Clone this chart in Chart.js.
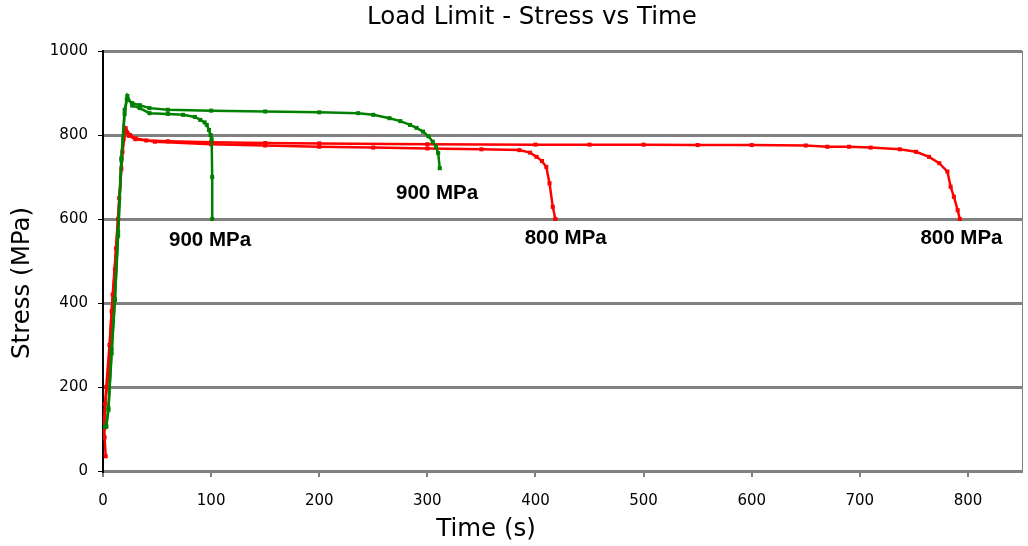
<!DOCTYPE html>
<html>
<head>
<meta charset="utf-8">
<script src="https://cdn.jsdelivr.net/npm/chart.js@4.4.3/dist/chart.umd.min.js"></script>
<style>
  html, body { margin: 0; padding: 0; background: #fff; }
  canvas { display: block; }
</style>
</head>
<body>
<canvas id="stressChart" width="1028" height="546"></canvas>
<script>
// readings taken off the original chart: time (s) / stress (MPa)
const greenShortTime   = [0, 3, 5, 8, 11, 14, 17, 20, 22.5, 27, 34, 43, 60, 74, 85, 90, 94, 96, 98, 99.5, 100.5, 101, 101];
const greenShortStress = [105, 105, 145, 280, 407, 560, 740, 850, 893, 870, 864, 852, 850, 848, 843, 836, 830, 824, 812, 800, 790, 700, 600];

const greenLongTime   = [0, 3, 5, 8, 11, 14, 17, 20, 22, 27, 34, 43, 60, 100, 150, 200, 236, 250, 265, 275, 284, 290, 296, 301, 305, 308, 310, 311.5];
const greenLongStress = [105, 108, 150, 290, 410, 570, 745, 860, 885, 876, 871, 864, 860, 858, 856, 854, 852, 848, 840, 833, 824, 817, 808, 797, 784, 772, 757, 721];

const redShortTime   = [2.5, 1, 2, 5, 8, 11, 14, 17, 19, 21, 25, 30, 48, 100, 150, 200, 250, 300, 350, 385, 395, 401, 406, 410, 413, 416, 418.4];
const redShortStress = [35, 100, 160, 230, 380, 480, 600, 720, 790, 816, 800, 792, 784, 778, 775, 772, 770, 768, 766, 764, 758, 748, 738, 724, 685, 629, 600];

const redLongTime   = [1.5, 1, 3, 6, 9, 12, 15, 18, 20.5, 24, 30, 40, 60, 100, 150, 200, 300, 400, 450, 500, 550, 600, 650, 670, 690, 710, 737, 752, 764, 773.5, 781, 784, 787, 790.5, 792.5];
const redLongStress = [80, 120, 200, 300, 420, 530, 650, 760, 810, 798, 790, 787, 785, 783, 781, 780, 778, 777, 777, 777, 776, 776, 775, 772, 772, 770, 766, 760, 748, 733, 713, 677, 653, 621, 600];

const noteText   = ['900 MPa', '900 MPa', '800 MPa', '800 MPa'];
const noteTime   = [99, 309, 428, 794];
const noteStress = [548, 660, 555, 555];

const pairs = (xs, ys) => xs.map((x, i) => ({ x: x, y: ys[i] }));

function series(label, xs, ys, color) {
    return {
        label: label,
        data: pairs(xs, ys),
        showLine: true,
        borderColor: color,
        backgroundColor: color,
        borderWidth: 2.5,
        pointStyle: 'rect',
        pointRadius: 1.1,
        pointHoverRadius: 1.1,
        tension: 0
    };
}

// title, axis titles, curve labels and the thin right border
const decor = {
    id: 'decor',
    afterDraw(chart) {
        const c = chart.ctx;
        const { x, y } = chart.scales;
        const area = chart.chartArea;
        c.save();
        c.strokeStyle = '#808080';
        c.lineWidth = 1;
        c.beginPath();
        c.moveTo(area.right + 0.5, area.top);
        c.lineTo(area.right + 0.5, area.bottom);
        c.stroke();

        c.fillStyle = '#000';
        c.textAlign = 'center';
        c.textBaseline = 'middle';
        c.font = '24.5px "DejaVu Sans"';
        c.fillText('Load Limit - Stress vs Time', 532, 18);
        c.fillText('Time (s)', 486, 530);
        c.save();
        c.translate(23, 283);
        c.rotate(-Math.PI / 2);
        c.fillText('Stress (MPa)', 0, 0);
        c.restore();

        c.font = 'bold 20.5px "Liberation Sans"';
        noteText.forEach((t, i) => {
            c.fillText(t, x.getPixelForValue(noteTime[i]), y.getPixelForValue(noteStress[i]));
        });
        c.restore();
    }
};

new Chart(document.getElementById('stressChart'), {
    type: 'scatter',
    data: {
        datasets: [
            series('900 MPa (short)', greenShortTime, greenShortStress, '#008000'),
            series('900 MPa (long)', greenLongTime, greenLongStress, '#008000'),
            series('800 MPa (short)', redShortTime, redShortStress, '#ff0000'),
            series('800 MPa (long)', redLongTime, redLongStress, '#ff0000')
        ]
    },
    options: {
        responsive: false,
        animation: false,
        devicePixelRatio: 1,
        layout: { padding: { top: 51, right: 6, left: 0, bottom: 0 } },
        plugins: {
            legend: { display: false },
            tooltip: { enabled: false }
        },
        scales: {
            x: {
                type: 'linear',
                min: 0,
                max: 850,
                afterFit(scale) { scale.height = 75; },
                border: { color: '#808080', width: 3 },
                grid: { drawOnChartArea: false, color: '#808080', tickLength: 6, lineWidth: 2 },
                ticks: {
                    stepSize: 100,
                    includeBounds: false,
                    padding: 15,
                    color: '#000',
                    font: { family: 'DejaVu Sans', size: 15 }
                }
            },
            y: {
                min: 0,
                max: 1000,
                afterFit(scale) { scale.width = 103; },
                border: { color: '#000', width: 2 },
                grid: { color: '#808080', lineWidth: 3, tickColor: '#000', tickWidth: 1, tickLength: 5 },
                ticks: {
                    stepSize: 200,
                    padding: 10,
                    color: '#000',
                    font: { family: 'DejaVu Sans', size: 15 },
                    callback: (v) => String(v)
                }
            }
        }
    },
    plugins: [decor]
});
</script>
</body>
</html>
